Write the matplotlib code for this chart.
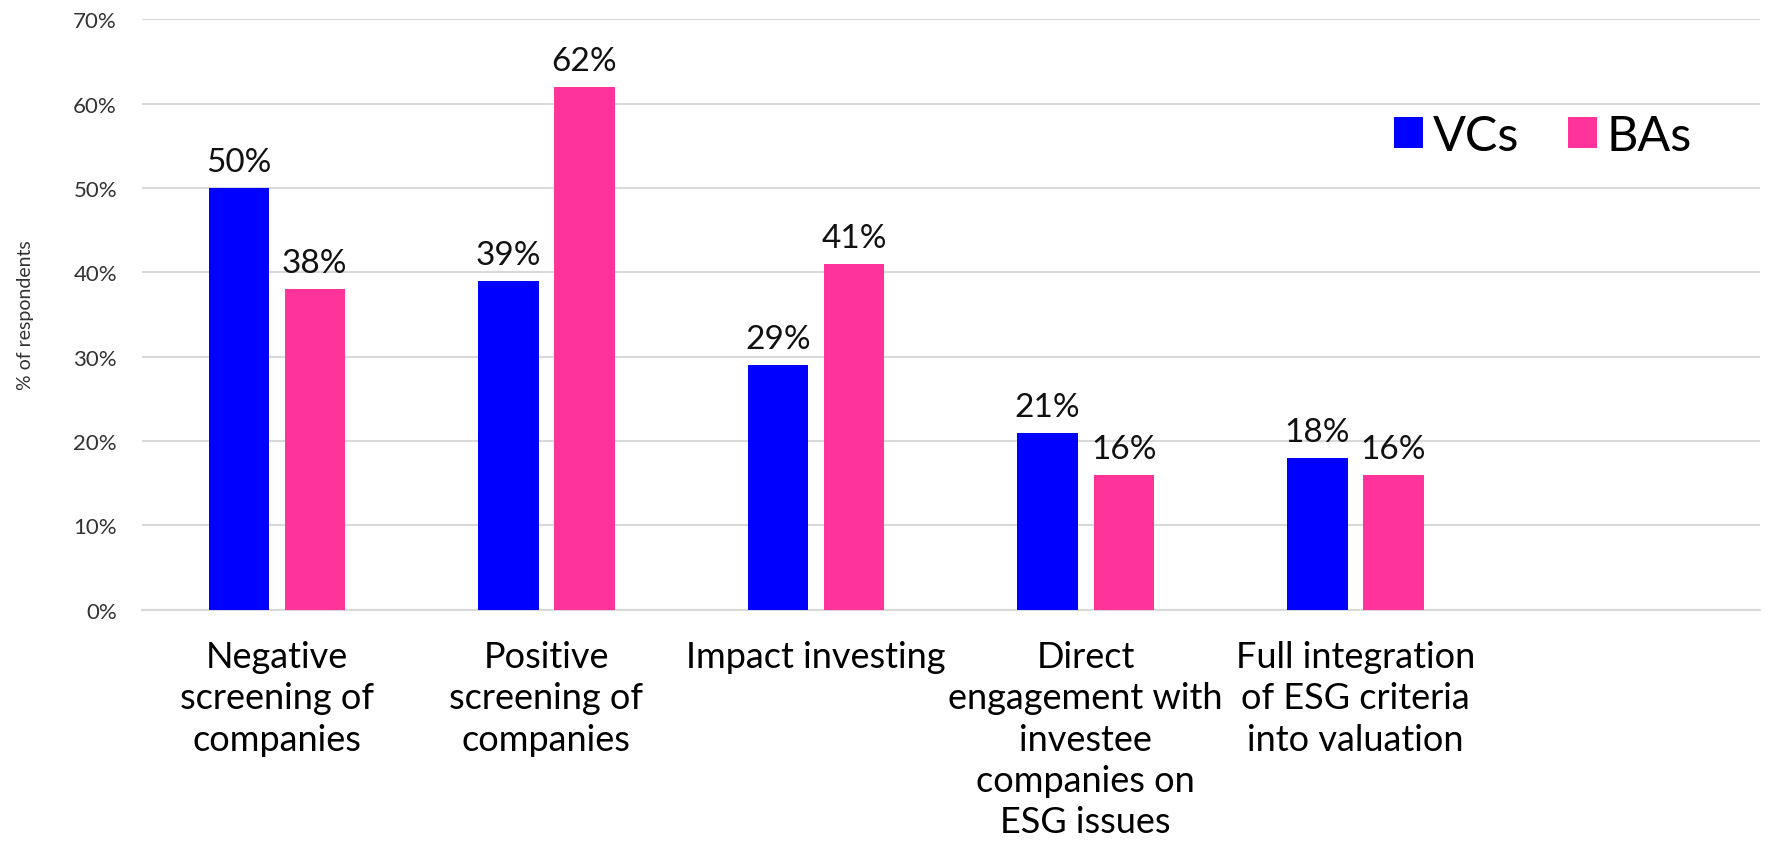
import numpy as np
import matplotlib
matplotlib.use('Agg')
import matplotlib.pyplot as plt

plt.rcParams['font.family'] = ['Lato', 'DejaVu Sans']

categories = ['Negative\nscreening of\ncompanies',
              'Positive\nscreening of\ncompanies',
              'Impact investing',
              'Direct\nengagement with\ninvestee\ncompanies on\nESG issues',
              'Full integration\nof ESG criteria\ninto valuation',
              '']
vcs = [50, 39, 29, 21, 18]
bas = [38, 62, 41, 16, 16]
yticks = [0, 10, 20, 30, 40, 50, 60, 70]

blue = '#0000ff'
pink = '#ff3399'

fig = plt.figure(figsize=(17.83, 8.53), dpi=100)
ax = fig.add_axes([0.0796, 0.284, 0.9074, 0.692])

x = np.arange(len(vcs))
w = 0.224
off = 0.141
b1 = ax.bar(x - off, vcs, w, color=blue, label='VCs', zorder=3)
b2 = ax.bar(x + off, bas, w, color=pink, label='BAs', zorder=3)

# value labels above each bar
for bars, vals in [(b1, vcs), (b2, bas)]:
    for r, v in zip(bars, vals):
        ax.annotate('%d%%' % v, (r.get_x() + r.get_width() / 2, v),
                    xytext=(0, 8), textcoords='offset points',
                    ha='center', va='bottom', fontsize=24, color='#111111')

ax.set_xlim(-0.5, len(categories) - 0.5)
ax.set_ylim(0, 70)
ax.set_yticks(yticks)
ax.set_yticklabels(['%d%%' % t for t in yticks], fontsize=16, color='#333333')
ax.set_xticks(np.arange(len(categories)))
ax.set_xticklabels(categories, fontsize=26, color='black', linespacing=1.3, va='top')
ax.tick_params(axis='x', length=0, pad=22)
ax.tick_params(axis='y', length=0, pad=18)

ax.grid(axis='y', color='#d9d9d9', linewidth=1.5, zorder=0)
for s in ['top', 'right', 'left']:
    ax.spines[s].set_visible(False)
ax.spines['bottom'].set_color('#d9d9d9')
ax.spines['bottom'].set_linewidth(1.5)

ax.set_ylabel('% of respondents', fontsize=14, color='#333333', labelpad=28)

ax.legend(loc='center right', bbox_to_anchor=(1716 / 1783, 1 - 137 / 853),
          bbox_transform=fig.transFigure, frameon=False, fontsize=35,
          handlelength=0.6, handleheight=0.6, handletextpad=0.2,
          columnspacing=1.0, ncol=2, borderpad=0)

fig.savefig('out.png', dpi=100)
